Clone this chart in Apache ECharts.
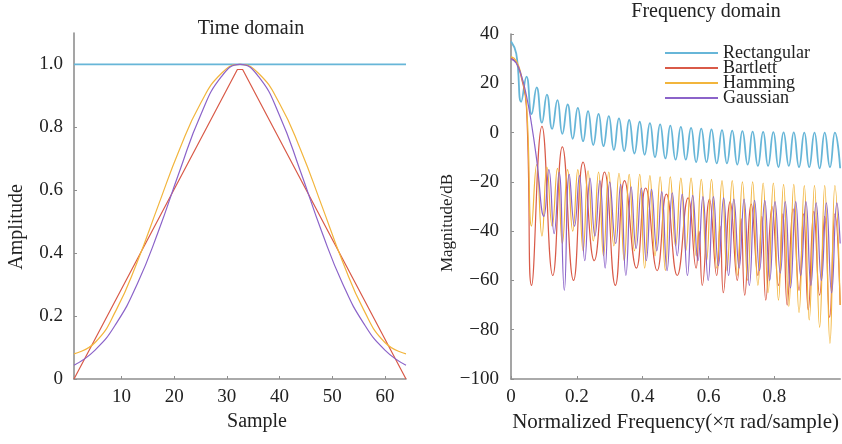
<!DOCTYPE html>
<html>
<head>
<meta charset="utf-8">
<script src="https://cdn.jsdelivr.net/npm/echarts@6/dist/echarts.min.js"></script>
<style>html,body{margin:0;padding:0;background:#fff}#c{width:842px;height:444px}</style>
</head>
<body>
<div id="c"></div>
<script>
// ---------- Time domain data ----------
const seriesNames = ['Rectangular', 'Bartlett', 'Hamming', 'Gaussian'];
const rectTimeX = [1, 64];
const rectTime = [1, 1];
const bartTimeX = [1, 32, 33, 64];
const bartTime = [0, 0.984, 0.984, 0];
const sampleX = [1, 5, 9, 13, 17, 21, 25, 29, 32.5, 36, 40, 44, 48, 52, 56, 60, 64];
const hammTime = [0.08, 0.116, 0.219, 0.372, 0.552, 0.729, 0.876, 0.972, 1.0, 0.972, 0.876, 0.729, 0.552, 0.372, 0.219, 0.116, 0.08];
const gaussTime = [0.044, 0.092, 0.176, 0.302, 0.469, 0.659, 0.838, 0.962, 1.0, 0.962, 0.838, 0.659, 0.469, 0.302, 0.176, 0.092, 0.044];
const sampleTicks = [10, 20, 30, 40, 50, 60];
const ampTicks = [0, 0.2, 0.4, 0.6, 0.8, 1.0];

// ---------- Frequency domain data ----------
const freqGrid = [0, 0.016, 0.031, 0.047, 0.0625, 0.078, 0.094, 0.109, 0.125, 0.141, 0.156, 0.172, 0.1875, 0.203, 0.219, 0.234, 0.25, 0.266, 0.281, 0.297, 0.3125, 0.328, 0.344, 0.359, 0.375, 0.391, 0.406, 0.422, 0.4375, 0.453, 0.469, 0.484, 0.5, 0.516, 0.531, 0.547, 0.5625, 0.578, 0.594, 0.609, 0.625, 0.641, 0.656, 0.672, 0.6875, 0.703, 0.719, 0.734, 0.75, 0.766, 0.781, 0.797, 0.8125, 0.828, 0.844, 0.859, 0.875, 0.891, 0.906, 0.922, 0.9375, 0.953, 0.969, 0.984, 1.0];
const rectMag = [37, 32, 12.5, 22.7, 7.5, 18.3, 4, 15.4, 1.5, 13.2, -0.5, 11.4, -2.5, 10.0, -3.5, 8.7, -5, 7.6, -5.5, 6.7, -7, 5.8, -7.5, 5.1, -8.5, 4.4, -9, 3.8, -10, 3.3, -10.5, 2.8, -11, 2.3, -11, 1.9, -12, 1.6, -12, 1.3, -12.5, 1.0, -12.5, 0.8, -13, 0.6, -13, 0.4, -13.5, 0.3, -13.5, 0.2, -14, 0.1, -13.5, 0.1, -14, 0, -14, 0, -14.5, 0, -14, 0, -14.5];
const hammMag = [30.8, 29.1, 23.4, 11.8, -38, -13, -42, -14, -38, -14.5, -45, -15, -40, -15, -48, -15.5, -44, -16, -50, -16, -46, -16.5, -52, -17, -48, -17, -55, -17.5, -50, -18, -56, -18, -46, -18.5, -48, -18.5, -50, -19, -52, -19, -55, -19.5, -56, -19.5, -58, -20, -60, -20, -62, -20.5, -65, -20.5, -68, -21, -70.5, -21, -73, -21.5, -76, -21.5, -79, -21.5, -85.5, -21.5, -70];
const bartFreq = [0, 0.016, 0.031, 0.047, 0.0625, 0.094, 0.127, 0.156, 0.19, 0.219, 0.253, 0.284, 0.317, 0.345, 0.381, 0.409, 0.444, 0.472, 0.505, 0.538, 0.5625, 0.571, 0.581, 0.603, 0.625, 0.635, 0.645, 0.666, 0.6875, 0.699, 0.71, 0.73, 0.75, 0.762, 0.774, 0.793, 0.8125, 0.826, 0.839, 0.857, 0.875, 0.889, 0.903, 0.92, 0.9375, 0.953, 0.968, 0.984, 1.0];
const bartMag = [30.2, 28.4, 22.6, 10.2, -62, 2.5, -58, -5.8, -60, -12, -52, -16, -62, -19.5, -55, -22.5, -56, -25, -58, -26.5, -55, -40, -62, -27, -58, -38, -65, -28, -60, -35, -66, -29, -58, -34, -68, -30, -62, -33, -70, -31, -64, -33, -72, -32, -66, -34, -75, -33, -70];
const gaussFreq = [0, 0.016, 0.031, 0.047, 0.0625, 0.078, 0.10, 0.115, 0.131, 0.146, 0.162, 0.177, 0.193, 0.208, 0.224, 0.24, 0.255, 0.27, 0.286, 0.30, 0.318, 0.333, 0.349, 0.365, 0.38, 0.396, 0.411, 0.427, 0.443, 0.458, 0.474, 0.49, 0.505, 0.52, 0.536, 0.552, 0.568, 0.583, 0.599, 0.615, 0.63, 0.646, 0.661, 0.677, 0.693, 0.708, 0.724, 0.74, 0.755, 0.771, 0.786, 0.802, 0.818, 0.833, 0.849, 0.865, 0.88, 0.896, 0.911, 0.927, 0.943, 0.958, 0.974, 0.99, 1.0];
const gaussMag = [29.9, 28.2, 23.4, 14.9, 3.3, -11, -34, -15, -41, -16, -64, -17, -38, -17.5, -52, -18.5, -42, -19.5, -55, -20, -45, -21, -58, -22, -47, -22.5, -52, -23, -48, -24, -56, -24.5, -50, -25, -58, -25.5, -52, -26, -60, -26, -54, -26.5, -58, -27, -55, -27, -62, -27.5, -56, -27.5, -60, -28, -57, -28, -63, -28, -58, -28, -62, -28.5, -60, -28.5, -65, -28.5, -45];
const freqTicks = [0, 0.2, 0.4, 0.6, 0.8];

// ---------- styling ----------
const FONT = '"Liberation Serif", "Times New Roman", serif';
const TXT = '#222';
const colors = {Rectangular: '#67b6d8', Bartlett: '#d95a48', Hamming: '#f2b53c', Gaussian: '#8b63c9'};
const pair = (xs, ys) => xs.map((x, i) => [x, ys[i]]);
const minus = v => (v < 0 ? '\u2212' + Math.abs(v) : String(v));
const axisLineStyle = {show: true, onZero: false, lineStyle: {color: '#8f8f8f', width: 1.6}};

function lineSeries(name, data, xi, smooth, width) {
  return {
    name, type: 'line', xAxisIndex: xi, yAxisIndex: xi, data,
    symbol: 'none', smooth: smooth, clip: true,
    lineStyle: {color: colors[name], width: width},
    itemStyle: {color: colors[name]},
    emphasis: {disabled: true}
  };
}

const chart = echarts.init(document.getElementById('c'), null, {renderer: 'canvas'});
chart.setOption({
  animation: false,
  backgroundColor: '#fff',
  textStyle: {fontFamily: FONT, color: TXT},
  grid: [
    {left: 74, top: 33, width: 332, height: 346},
    {left: 511, top: 34, width: 331, height: 345}
  ],
  graphic: [
    {type: 'text', x: 251, y: 29, style: {text: 'Time domain', font: '20px ' + FONT, fill: TXT, textAlign: 'center', textVerticalAlign: 'middle'}},
    {type: 'text', x: 706, y: 12, style: {text: 'Frequency domain', font: '20px ' + FONT, fill: TXT, textAlign: 'center', textVerticalAlign: 'middle'}}
  ],
  legend: {
    data: seriesNames, orient: 'vertical', left: 660, top: 39,
    icon: 'rect', itemWidth: 53, itemHeight: 2, itemGap: -3, itemTextGap: 11,
    textStyle: {fontFamily: FONT, fontSize: 18, color: TXT},
    selectedMode: false
  },
  xAxis: [
    {
      gridIndex: 0, type: 'value', min: 1, max: 64,
      name: 'Sample', nameLocation: 'middle', nameGap: 29,
      nameTextStyle: {fontFamily: FONT, fontSize: 20, color: TXT, padding: [0, 0, 0, 34]},
      axisLine: axisLineStyle,
      axisTick: {show: true, inside: true, length: 3, customValues: sampleTicks, lineStyle: {color: '#8f8f8f'}},
      axisLabel: {customValues: sampleTicks, fontFamily: FONT, fontSize: 19, color: TXT, margin: 9},
      splitLine: {show: false}
    },
    {
      gridIndex: 1, type: 'value', min: 0, max: 1,
      name: 'Normalized Frequency(\u00d7\u03c0 rad/sample)', nameLocation: 'middle', nameGap: 28,
      nameTextStyle: {fontFamily: FONT, fontSize: 21, color: TXT},
      axisLine: axisLineStyle,
      axisTick: {show: true, inside: true, length: 3, customValues: freqTicks, lineStyle: {color: '#8f8f8f'}},
      axisLabel: {customValues: freqTicks, fontFamily: FONT, fontSize: 19, color: TXT, margin: 9,
        formatter: v => (v === 0 ? '0' : v.toFixed(1))},
      splitLine: {show: false}
    }
  ],
  yAxis: [
    {
      gridIndex: 0, type: 'value', min: 0, max: 1.1,
      name: 'Amplitude', nameLocation: 'middle', nameRotate: 90, nameGap: 47,
      nameTextStyle: {fontFamily: FONT, fontSize: 20, color: TXT, padding: [0, 42, 0, 0]},
      axisLine: axisLineStyle,
      axisTick: {show: true, inside: true, length: 3, customValues: ampTicks, lineStyle: {color: '#8f8f8f'}},
      axisLabel: {customValues: ampTicks, fontFamily: FONT, fontSize: 19, color: TXT, margin: 11,
        formatter: v => (v === 0 ? '0' : v.toFixed(1))},
      splitLine: {show: false}
    },
    {
      gridIndex: 1, type: 'value', min: -100, max: 40, interval: 20,
      name: 'Magnitude/dB', nameLocation: 'middle', nameRotate: 90, nameGap: 43,
      nameTextStyle: {fontFamily: FONT, fontSize: 17, color: TXT, padding: [0, 33, 0, 0]},
      axisLine: axisLineStyle,
      axisTick: {show: true, inside: true, length: 3, lineStyle: {color: '#8f8f8f'}},
      axisLabel: {fontFamily: FONT, fontSize: 19, color: TXT, margin: 12, formatter: minus},
      splitLine: {show: false}
    }
  ],
  series: [
    lineSeries('Rectangular', pair(rectTimeX, rectTime), 0, false, 1.8),
    lineSeries('Bartlett', pair(bartTimeX, bartTime), 0, false, 1.2),
    lineSeries('Hamming', pair(sampleX, hammTime), 0, true, 1.2),
    lineSeries('Gaussian', pair(sampleX, gaussTime), 0, true, 1.2),
    lineSeries('Rectangular', pair(freqGrid, rectMag), 1, 0.5, 1.8),
    lineSeries('Bartlett', pair(bartFreq, bartMag), 1, 0.5, 1.2),
    lineSeries('Hamming', pair(freqGrid, hammMag), 1, 0.5, 1.2),
    lineSeries('Gaussian', pair(gaussFreq, gaussMag), 1, 0.5, 1.2)
  ]
});
</script>
</body>
</html>
